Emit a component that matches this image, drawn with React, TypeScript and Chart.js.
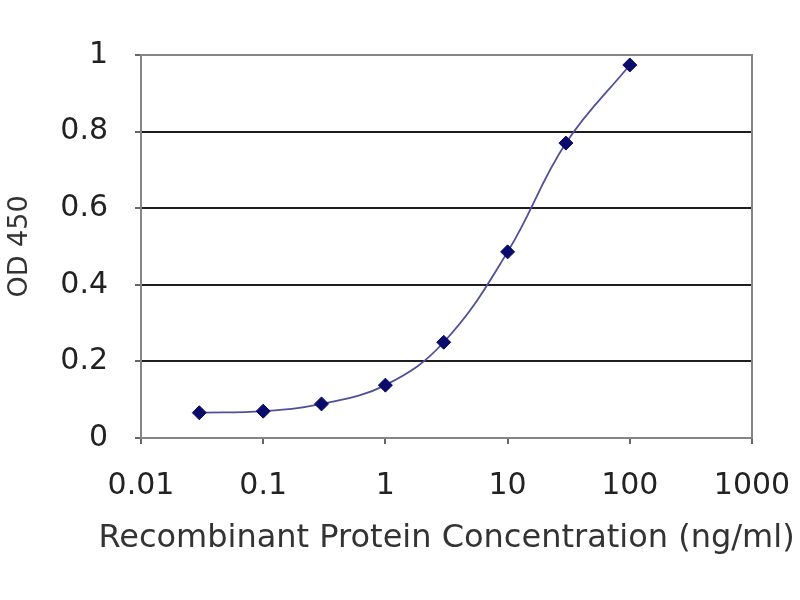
import React, { useEffect, useRef } from "react";
import { Chart, registerables } from "chart.js";

Chart.register(...registerables);

const CONCENTRATIONS = [0.03, 0.1, 0.3, 1, 3, 10, 30, 100];
const OD_VALUES = [0.066, 0.07, 0.089, 0.138, 0.25, 0.486, 0.77, 0.974];
const X_TICKS = [0.01, 0.1, 1, 10, 100, 1000];
const X_TICK_LABELS = ["0.01", "0.1", "1", "10", "100", "1000"];
const Y_TICKS = [0, 0.2, 0.4, 0.6, 0.8, 1];
const Y_TICK_LABELS = ["0", "0.2", "0.4", "0.6", "0.8", "1"];
const X_TITLE = "Recombinant Protein Concentration (ng/ml)";
const Y_TITLE = "OD 450";

const FONT = "'DejaVu Sans', 'Liberation Sans', Arial, sans-serif";

const frame = {
  id: "frame",
  afterDraw(chart: any) {
    const { ctx, chartArea } = chart;
    ctx.save();
    ctx.strokeStyle = "#858585";
    ctx.lineWidth = 2;
    ctx.strokeRect(
      chartArea.left,
      chartArea.top,
      chartArea.right - chartArea.left,
      chartArea.bottom - chartArea.top
    );
    // x-axis title, drawn without Chart.js' width clamp so it can span beyond the plot area
    ctx.font = `32px ${FONT}`;
    ctx.fillStyle = "#333";
    ctx.textAlign = "center";
    ctx.textBaseline = "middle";
    ctx.fillText(X_TITLE, (chartArea.left + chartArea.right) / 2, chartArea.bottom + 101);
    ctx.restore();
  },
};

export default function App() {
  const ref = useRef<HTMLCanvasElement | null>(null);
  useEffect(() => {
    document.body.style.margin = "0";
    const canvas = ref.current;
    if (!canvas) return;
    const chart = new Chart(canvas, {
      type: "line",
      data: {
        datasets: [
          {
            data: CONCENTRATIONS.map((x, i) => ({ x, y: OD_VALUES[i] })),
            borderColor: "#50509a",
            borderWidth: 1.8,
            tension: 0.4,
            pointStyle: "rectRot",
            pointRadius: 7,
            pointBackgroundColor: "#0b0b6b",
            pointBorderColor: "#0b0b6b",
            pointBorderWidth: 1,
            fill: false,
          },
        ],
      },
      options: {
        responsive: false,
        animation: false,
        layout: { padding: { top: 55, right: 48, bottom: 46, left: 0 } },
        plugins: { legend: { display: false }, tooltip: { enabled: false } },
        scales: {
          x: {
            type: "logarithmic",
            min: 0.01,
            max: 1000,
            afterBuildTicks: (scale: any) => {
              scale.ticks = X_TICKS.map((v) => ({ value: v }));
            },
            afterFit: (scale: any) => {
              scale.height = 116;
              scale.paddingLeft = 0;
              scale.paddingRight = 0;
            },
            ticks: {
              autoSkip: false,
              maxRotation: 0,
              padding: 24,
              color: "#222",
              font: { family: FONT, size: 30 },
              callback: (_v: any, i: number) => X_TICK_LABELS[i],
            },
            grid: {
              drawOnChartArea: false,
              drawTicks: true,
              tickLength: 6,
              tickColor: "#666",
              lineWidth: 2,
            },
            border: { display: true, color: "#858585", width: 2 },
            title: { display: false, text: X_TITLE },
          },
          y: {
            min: 0,
            max: 1,
            afterBuildTicks: (scale: any) => {
              scale.ticks = Y_TICKS.map((v) => ({ value: v }));
            },
            afterFit: (scale: any) => {
              scale.width = 141;
            },
            ticks: {
              padding: 27,
              color: "#222",
              font: { family: FONT, size: 30 },
              callback: (_v: any, i: number) => Y_TICK_LABELS[i],
            },
            grid: {
              drawTicks: true,
              tickLength: 6,
              tickColor: "#666",
              lineWidth: 2,
              color: (ctx: any) =>
                ctx.tick && (ctx.tick.value === 0 || ctx.tick.value === 1)
                  ? "rgba(0,0,0,0)"
                  : "#1e1e1e",
            },
            border: { display: true, color: "#858585", width: 2 },
            title: {
              display: true,
              text: Y_TITLE,
              color: "#333",
              font: { family: FONT, size: 27 },
              padding: { top: 4, bottom: 0 },
            },
          },
        },
      },
      plugins: [frame],
    });
    return () => chart.destroy();
  }, []);
  return (
    <div style={{ width: 800, height: 600, background: "#fff" }}>
      <canvas ref={ref} width={800} height={600} />
    </div>
  );
}
